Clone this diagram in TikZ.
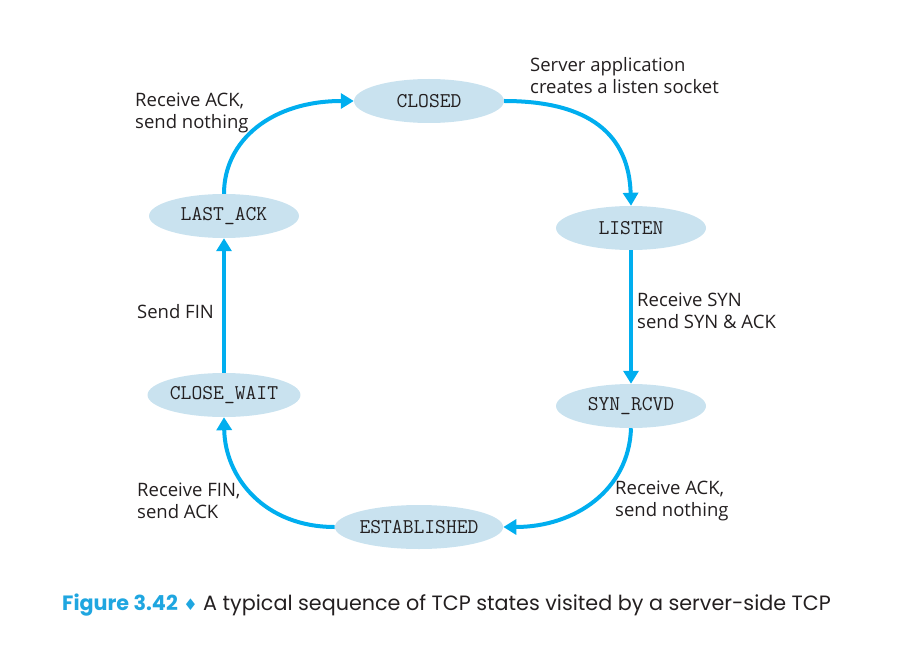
\documentclass[tikz,border=0pt]{standalone}
\usepackage{fontspec}
\setmainfont{Open Sans}
\newfontfamily\capf{Poppins}
\newfontfamily\djv{DejaVu Sans}
\usetikzlibrary{shapes.geometric,arrows.meta}
\definecolor{arrowblue}{HTML}{00AEEF}
\definecolor{nodefill}{HTML}{C9E2EF}
\definecolor{capblue}{HTML}{1FA6E0}
\definecolor{txt}{HTML}{231F20}
\begin{document}
\begin{tikzpicture}[x=1pt,y=-1pt,
  state/.style={ellipse, fill=nodefill, minimum width=150pt, minimum height=44pt, inner sep=0pt,
    font=\ttfamily\fontsize{21}{23}\selectfont, text=txt},
  lbl/.style={anchor=west, inner sep=0pt, align=left, text=txt,
    font=\fontsize{18.5}{22}\selectfont},
  conn/.style={draw=arrowblue, line width=4pt, -{Triangle[length=13pt,width=15pt]}}
]
\useasboundingbox (0,0) rectangle (917,652);
\node[state] (closed) at (429,101) {CLOSED};
\node[state] (listen) at (631,228) {LISTEN};
\node[state] (synrcvd) at (631,406) {SYN\_RCVD};
\node[state] (est) at (419,527) {ESTABLISHED};
\node[state] (closewait) at (224,395) {CLOSE\_WAIT};
\node[state] (lastack) at (224,216) {LAST\_ACK};

\draw[conn] (closed.east) .. controls (590,101) and (629,135) .. (listen.north);
\draw[conn] (listen.south) -- (synrcvd.north);
\draw[conn] (synrcvd.south) .. controls (629,490) and (575,527) .. (est.east);
\draw[conn] (est.west) .. controls (265,527) and (225,478) .. (closewait.south);
\draw[conn] (closewait.north) -- (lastack.south);
\draw[conn] (lastack.north) .. controls (224,140) and (272,101) .. (closed.west);

\node[lbl] (l1) at (530,76) {Server application\\creates a listen socket};
\node[lbl] (l2) at (637,311) {Receive SYN\\send SYN \& ACK};
\node[lbl] (l3) at (615,501) {Receive ACK,\\send nothing};
\node[lbl] (l4) at (137,501) {Receive FIN,\\send ACK};
\node[lbl] (l5) at (137,312) {Send FIN};
\node[lbl] (l6) at (135,113) {Receive ACK,\\send nothing};

\node[anchor=west, inner sep=0pt, text=txt, font=\capf\fontsize{20.7}{24}\selectfont] (cap) at (62,605)
  {\textcolor{capblue}{\bfseries Figure 3.42} \textcolor{capblue}{\djv\fontsize{16}{20}\selectfont ♦} A typical sequence of TCP states visited by a server-side TCP};
\end{tikzpicture}
\end{document}
